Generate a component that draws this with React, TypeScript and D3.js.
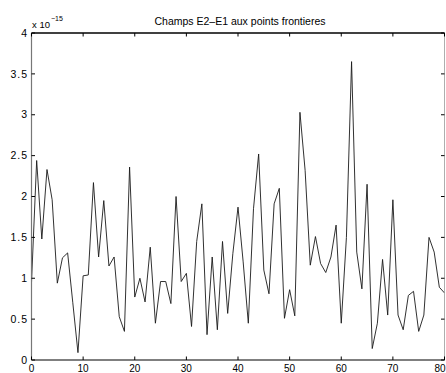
import React from "react";
import * as d3 from "d3";

const xValues: number[] = d3.range(0, 81);
const fieldValues: number[] = [
  0.95, 2.44, 1.48, 2.33, 1.96, 0.94, 1.25, 1.31, 0.70, 0.09,
  1.03, 1.04, 2.17, 1.26, 1.95, 1.15, 1.26, 0.53, 0.35, 2.36,
  0.77, 1.00, 0.71, 1.38, 0.45, 0.96, 0.96, 0.69, 2.00, 0.96,
  1.06, 0.41, 1.45, 1.91, 0.31, 1.26, 0.37, 1.45, 0.57, 1.30,
  1.87, 1.20, 0.45, 1.85, 2.52, 1.10, 0.81, 1.91, 2.10, 0.51,
  0.86, 0.54, 3.03, 2.32, 1.16, 1.51, 1.18, 1.07, 1.26, 1.65,
  0.45, 1.50, 3.65, 1.32, 0.87, 2.15, 0.14, 0.45, 1.23, 0.55,
  1.96, 0.55, 0.37, 0.79, 0.84, 0.35, 0.55, 1.50, 1.32, 0.89,
  0.82,
];
const xTicks: number[] = [0, 10, 20, 30, 40, 50, 60, 70, 80];
const yTicks: number[] = [0, 0.5, 1, 1.5, 2, 2.5, 3, 3.5, 4];
const titleText = "Champs E2\u2013E1 aux points frontieres";

const W = 446;
const H = 373;
const L = 31.5;
const R = 444.5;
const T = 33;
const B = 360;
const FONT = "'Liberation Sans', Arial, Helvetica, sans-serif";

export default function App() {
  const x = d3.scaleLinear().domain([0, 80]).range([L, R]);
  const y = d3.scaleLinear().domain([0, 4]).range([B, T]);
  const line = d3
    .line<number>()
    .x((_, i) => x(xValues[i]))
    .y((d) => y(d));

  return (
    <svg
      width={W}
      height={H}
      style={{ position: "absolute", left: 0, top: 0, background: "#fff" }}
      fontFamily={FONT}
    >
      <rect x={0} y={0} width={W} height={H} fill="#fff" />
      <path d={line(fieldValues) || ""} fill="none" stroke="#1a1a1a" strokeWidth={0.9} strokeLinejoin="miter" />
      <line x1={L} x2={R} y1={T} y2={T} stroke="#000" strokeWidth={1.5} />
      <line x1={L} x2={R} y1={B} y2={B} stroke="#000" strokeWidth={1.2} />
      <line x1={L} x2={L} y1={T} y2={B} stroke="#777" strokeWidth={1.2} />
      <line x1={R} x2={R} y1={T} y2={B} stroke="#999" strokeWidth={0.8} />
      {xTicks.map((t) => (
        <g key={"xt" + t}>
          <line x1={x(t)} x2={x(t)} y1={B} y2={B - 3.5} stroke="#000" strokeWidth={1} />
          <line x1={x(t)} x2={x(t)} y1={T} y2={T + 3.5} stroke="#000" strokeWidth={1} />
          <text
            x={Math.min(x(t), W - 6)}
            y={371.5}
            fontSize={10}
            textAnchor="middle"
            fill="#000"
          >
            {t}
          </text>
        </g>
      ))}
      {yTicks.map((t) => (
        <g key={"yt" + t}>
          <line x1={L} x2={L + 3.5} y1={y(t)} y2={y(t)} stroke="#000" strokeWidth={1} />
          <line x1={R} x2={R - 3.5} y1={y(t)} y2={y(t)} stroke="#000" strokeWidth={1} />
          <text
            x={28}
            y={y(t)}
            dy="0.35em"
            fontSize={10.5}
            textAnchor="end"
            letterSpacing={1}
            fill="#000"
          >
            {String(t)}
          </text>
        </g>
      ))}
      <text x={32} y={28} fontSize={9.5} fill="#000">
        x 10
      </text>
      <text x={51} y={21} fontSize={7} fill="#000">
        {"\u221215"}
      </text>
      <text x={240} y={24.5} fontSize={10.5} textAnchor="middle" fill="#000">
        {titleText}
      </text>
    </svg>
  );
}
